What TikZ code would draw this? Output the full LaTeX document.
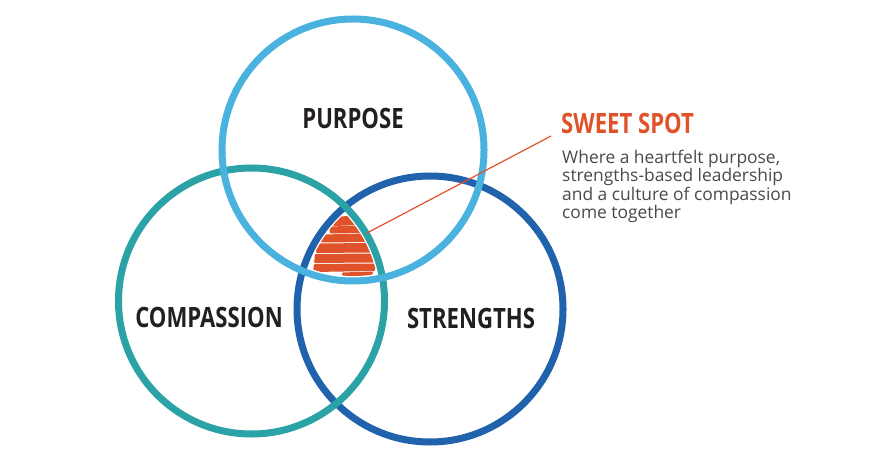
\documentclass[tikz,border=0pt]{standalone}
\usepackage{fontspec}
\setmainfont{Open Sans}
\newfontfamily\labfont[FakeStretch=0.79]{Open Sans}
\definecolor{pblue}{HTML}{49B2DF}
\definecolor{cteal}{HTML}{2AA2A6}
\definecolor{sblue}{HTML}{2162AD}
\definecolor{sorange}{HTML}{E0532A}
\definecolor{labdark}{HTML}{231F20}
\definecolor{descgray}{HTML}{4A4A4A}
\begin{document}
\begin{tikzpicture}[x=1pt,y=-1pt,
  ring/.style={circle, draw, line width=7pt, inner sep=0pt, outer sep=0pt},
  biglabel/.style={font=\labfont\bfseries\fontsize{28}{30}\selectfont, text=labdark, inner sep=0pt},
  desc/.style={font=\fontsize{17.4}{18.6}\selectfont, text=descgray, align=left, inner sep=0pt, anchor=north west},
  bar/.style={fill=sorange, rounded corners=1pt}
]
\useasboundingbox[fill=white] (0,0) rectangle (877,462);
% sweet spot scribble (under the rings)
\begin{scope}
  \clip (353,150) circle (126pt);
  \clip (251.5,301) circle (128pt);
  \clip (430,309) circle (128pt);
  \fill[bar] (334,217) -- (361,215) -- (363,225) -- (333,226) -- cycle;
  \fill[bar] (329,226.5) -- (366,225.5) -- (366,233) -- (330,233.5) -- cycle;
  \fill[bar] (322,234.5) -- (368,233.5) -- (369,242) -- (321,242.5) -- cycle;
  \fill[bar] (317,243.5) -- (370,243) -- (371,252.5) -- (316,253) -- cycle;
  \fill[bar] (315,254) -- (373,253.5) -- (374,262.5) -- (314,263) -- cycle;
  \fill[bar] (314,264) -- (375,263.5) -- (375,271) -- (313,272) -- cycle;
  \fill[bar] (342,272.5) -- (373,271.5) -- (372,278) -- (343,279) -- cycle;
\end{scope}
% rings
\node[ring, draw=sblue, minimum size=266pt] (strengths) at (430,309) {};
\node[ring, draw=cteal, minimum size=266pt] (compassion) at (251.5,301) {};
\node[ring, draw=pblue, minimum size=262pt] (purpose) at (353,150) {};
% labels
\node[biglabel] (lpurpose) at (353,118) {PURPOSE};
\node[biglabel] (lcompassion) at (209,317) {COMPASSION};
\node[biglabel] (lstrengths) at (471,318) {STRENGTHS};
\node[biglabel, text=sorange, anchor=west] (sweet) at (561,123) {SWEET SPOT};
\node[desc] (desc) at (562,149.5) {Where a heartfelt purpose,\\strengths-based leadership\\and a culture of compassion\\come together};
% connector
\coordinate (spot) at (367,233);
\coordinate (lineend) at (551,136);
\draw[sorange, line width=1.2pt] (spot) -- (lineend);
\end{tikzpicture}
\end{document}
